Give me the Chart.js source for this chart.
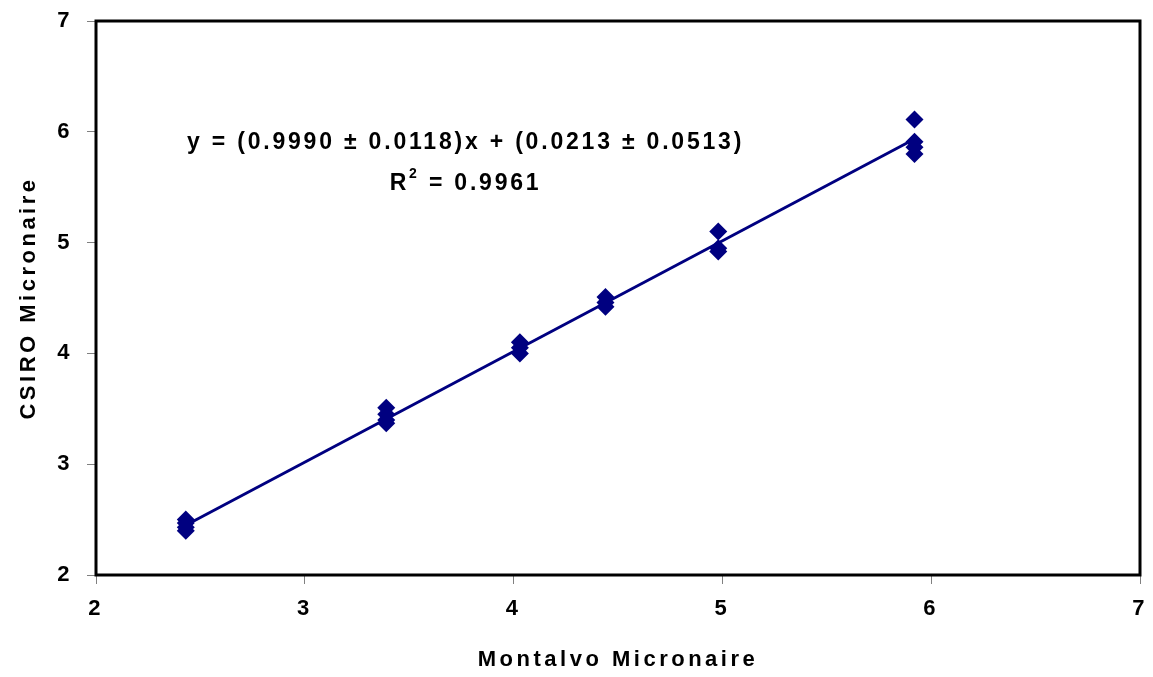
<!DOCTYPE html>
<html>
<head>
<meta charset="utf-8">
<script src="https://cdn.jsdelivr.net/npm/chart.js@4/dist/chart.umd.min.js"></script>
<style>
  html, body { margin: 0; padding: 0; background: #fff; }
  #wrap { width: 1153px; height: 677px; position: relative; }
</style>
</head>
<body>
<div id="wrap"><canvas id="grafico"></canvas></div>
<script>
/*************  dados  ****************/
// Montalvo (x) e CSIRO (y) por amostra
const montalvoX = [2.43, 2.43, 2.43, 2.43, 3.39, 3.39, 3.39, 3.39, 4.03, 4.03, 4.03, 4.44, 4.44, 4.44, 4.98, 4.98, 4.98, 5.92, 5.92, 5.92, 5.92]
const csiroY    = [2.50, 2.47, 2.43, 2.40, 3.51, 3.45, 3.40, 3.37, 4.10, 4.05, 4.00, 4.51, 4.46, 4.42, 5.10, 4.95, 4.92, 6.11, 5.91, 5.86, 5.80]

// reta de regressao
const slope = 0.9990
const intercept = 0.0213
const lineX = [2.43, 5.92]

const xTicks = [2, 3, 4, 5, 6, 7]
const yTicks = [2, 3, 4, 5, 6, 7]

const equationText = 'y = (0.9990 \u00b1 0.0118)x + (0.0213 \u00b1 0.0513)'
const r2Text = '0.9961'

const navy = '#000080'
const fonte = 'Arial, "Liberation Sans", sans-serif'

/*************  plugins  ****************/
// espacamento de letras tipo Excel
const espacamento = {
  id: 'espacamento',
  beforeDraw(chart) { chart.ctx.letterSpacing = '3.5px' }
}

// caixa preta e equacao
const caixaEquacao = {
  id: 'caixaEquacao',
  afterDatasetsDraw(chart) {
    const {ctx, chartArea: a, scales} = chart
    ctx.save()
    ctx.strokeStyle = '#000'
    ctx.lineWidth = 3
    ctx.strokeRect(a.left, a.top, a.right - a.left, a.bottom - a.top)

    ctx.fillStyle = '#000'
    ctx.font = 'bold 23px ' + fonte
    ctx.letterSpacing = '2.8px'
    ctx.textAlign = 'center'
    ctx.textBaseline = 'middle'
    const cx = scales.x.getPixelForValue(3.77)
    ctx.fillText(equationText, cx, scales.y.getPixelForValue(5.9))

    // R^2 com expoente
    const parte1 = 'R'
    const parte2 = ' = ' + r2Text
    const w1 = ctx.measureText(parte1).width
    ctx.font = 'bold 14px ' + fonte
    const wSup = ctx.measureText('2').width
    ctx.font = 'bold 23px ' + fonte
    const w2 = ctx.measureText(parte2).width
    const total = w1 + wSup + w2
    const y2 = scales.y.getPixelForValue(5.53)
    let x0 = cx - total / 2
    ctx.textAlign = 'left'
    ctx.fillText(parte1, x0, y2)
    ctx.font = 'bold 14px ' + fonte
    ctx.fillText('2', x0 + w1, y2 - 10)
    ctx.font = 'bold 23px ' + fonte
    ctx.fillText(parte2, x0 + w1 + wSup, y2)
    ctx.restore()
  }
}

/*************  grafico  ****************/
const pontos = montalvoX.map((x, i) => ({x: x, y: csiroY[i]}))
const reta = lineX.map(x => ({x: x, y: slope * x + intercept}))

new Chart(document.getElementById('grafico'), {
  type: 'scatter',
  data: {
    datasets: [
      {
        label: 'Regressao',
        type: 'line',
        data: reta,
        borderColor: navy,
        borderWidth: 3,
        pointRadius: 0,
        fill: false
      },
      {
        label: 'Micronaire',
        data: pontos,
        pointStyle: 'rectRot',
        pointRadius: 9,
        backgroundColor: navy,
        borderColor: navy,
        borderWidth: 0
      }
    ]
  },
  options: {
    responsive: true,
    maintainAspectRatio: false,
    animation: false,
    layout: { padding: {top: 21, right: 13, left: 0, bottom: 0} },
    plugins: {
      legend: { display: false },
      tooltip: { enabled: false }
    },
    scales: {
      x: {
        type: 'linear',
        min: 2, max: 7,
        afterBuildTicks: s => { s.ticks = xTicks.map(v => ({value: v})) },
        afterFit: s => { s.height = 102; s.paddingLeft = 0; s.paddingRight = 0 },
        grid: { drawOnChartArea: false, drawTicks: true, tickLength: 9, color: '#808080', lineWidth: 1 },
        border: { display: false },
        ticks: { color: '#000', font: {family: fonte, size: 22, weight: 'bold'}, padding: 12 },
        title: {
          display: true, text: 'Montalvo Micronaire', color: '#000',
          font: {family: fonte, size: 22, weight: 'bold'}, padding: {top: 16}
        }
      },
      y: {
        type: 'linear',
        min: 2, max: 7,
        afterBuildTicks: s => { s.ticks = yTicks.map(v => ({value: v})) },
        afterFit: s => { s.width = 96; s.paddingTop = 0; s.paddingBottom = 0 },
        grid: { drawOnChartArea: false, drawTicks: true, tickLength: 9, color: '#808080', lineWidth: 1 },
        border: { display: false },
        ticks: { color: '#000', font: {family: fonte, size: 22, weight: 'bold'}, padding: 14 },
        title: {
          display: true, text: 'CSIRO Micronaire', color: '#000',
          font: {family: fonte, size: 22, weight: 'bold'}, padding: {bottom: 0, top: 16}
        }
      }
    }
  },
  plugins: [espacamento, caixaEquacao]
})
</script>
</body>
</html>
